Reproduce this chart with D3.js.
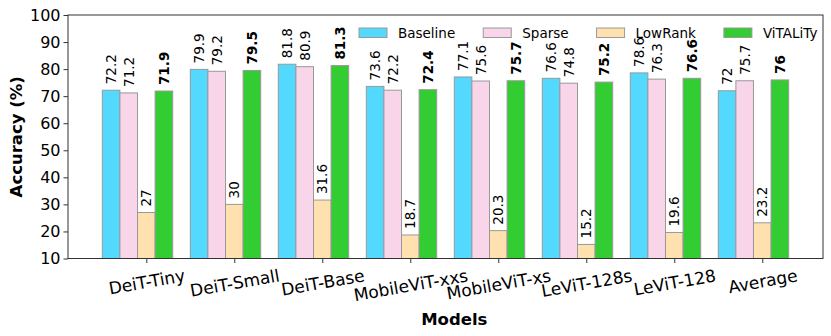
<!DOCTYPE html>
<html>
<head>
<meta charset="utf-8">
<script src="https://cdn.jsdelivr.net/npm/d3@7"></script>
<style>
  body { margin: 0; background: #fff; }
  text { font-family: "DejaVu Sans", sans-serif; fill: #000; }
</style>
</head>
<body>
<div id="chart"></div>
<script>
const models = ["DeiT-Tiny", "DeiT-Small", "DeiT-Base", "MobileViT-xxs", "MobileViT-xs", "LeViT-128s", "LeViT-128", "Average"];
const seriesNames = ["Baseline", "Sparse", "LowRank", "ViTALiTy"];
const baseline = [72.2, 79.9, 81.8, 73.6, 77.1, 76.6, 78.6, 72];
const sparse = [71.2, 79.2, 80.9, 72.2, 75.6, 74.8, 76.3, 75.7];
const lowRank = [27, 30, 31.6, 18.7, 20.3, 15.2, 19.6, 23.2];
const vitality = [71.9, 79.5, 81.3, 72.4, 75.7, 75.2, 76.6, 76];
const yTicks = [10, 20, 30, 40, 50, 60, 70, 80, 90, 100];

const colors = ["#52d9fd", "#f8d5e8", "#ffe1b0", "#33cc33"];
const series = [baseline, sparse, lowRank, vitality];
const barW = 0.2;
// left edge of each series relative to the tick (tick sits on the LowRank bar)
const offsets = [-0.5, -0.3, -0.1, 0.1];

const W = 831, H = 336;
const margin = { t: 15, r: 8, b: 77.5, l: 68 };

const svg = d3.select("#chart").append("svg")
  .attr("width", W)
  .attr("height", H);

var scale = {
  x: d3.scaleLinear().domain([-0.89, 7.69]).range([margin.l, W - margin.r]),
  y: d3.scaleLinear().domain([10, 100]).range([H - margin.b, margin.t]),
};

svg.append("clipPath").attr("id", "clip")
  .append("rect")
  .attr("x", margin.l).attr("y", margin.t)
  .attr("width", W - margin.r - margin.l)
  .attr("height", H - margin.b - margin.t);

// bars
const plot = svg.append("g").attr("clip-path", "url(#clip)");
series.forEach((vals, s) => {
  plot.selectAll(".bar" + s)
    .data(vals)
    .join("rect")
    .attr("class", "bar" + s)
    .attr("x", (d, i) => scale.x(i + offsets[s]))
    .attr("width", scale.x(barW) - scale.x(0))
    .attr("y", d => scale.y(d))
    .attr("height", d => scale.y(10) - scale.y(d) + 2)
    .attr("fill", colors[s])
    .attr("stroke", "#999")
    .attr("stroke-width", 1);
});

// value labels, vertical, ViTALiTy in bold
series.forEach((vals, s) => {
  svg.selectAll(".lab" + s)
    .data(vals)
    .join("text")
    .attr("class", "lab" + s)
    .attr("transform", (d, i) =>
      "translate(" + scale.x(i + offsets[s] + barW / 2) + "," + (scale.y(d) - 6) + ") rotate(-90)")
    .attr("dy", "0.36em")
    .style("font-size", "13.5px")
    .style("font-weight", s === 3 ? "bold" : "normal")
    .text(d => String(d));
});

// axes
const yAxis = d3.axisLeft(scale.y).tickValues(yTicks).tickSize(4.5).tickPadding(3);
const gy = svg.append("g")
  .attr("transform", "translate(" + margin.l + ",0)")
  .call(yAxis);
gy.selectAll("text").style("font-size", "16px");

const xAxis = d3.axisBottom(scale.x).tickValues(d3.range(models.length))
  .tickFormat((d, i) => models[i]).tickSize(4.5).tickPadding(3);
const gx = svg.append("g")
  .attr("transform", "translate(0," + (H - margin.b) + ")")
  .call(xAxis);
const fs = 17, ang = 10 * Math.PI / 180;
gx.selectAll("text")
  .style("font-size", fs + "px")
  .attr("y", 0).attr("dy", 0)
  .attr("text-anchor", "middle")
  .attr("dominant-baseline", "central")
  .attr("transform", function () {
    // rotated label hangs with its bounding box top just under the tick
    const L = this.getComputedTextLength();
    const cy = 7.5 + (L * Math.sin(ang) + fs * 1.1 * Math.cos(ang)) / 2;
    return "translate(0," + cy + ") rotate(-10)";
  });

svg.selectAll(".domain").remove();
svg.selectAll(".tick line").attr("stroke", "#333");

// frame
svg.append("rect")
  .attr("x", margin.l).attr("y", margin.t)
  .attr("width", W - margin.r - margin.l)
  .attr("height", H - margin.b - margin.t)
  .attr("fill", "none")
  .attr("stroke", "#333")
  .attr("stroke-width", 1);

// axis titles
svg.append("text")
  .attr("transform", "translate(22," + (margin.t + (H - margin.b - margin.t) / 2) + ") rotate(-90)")
  .attr("text-anchor", "middle")
  .style("font-size", "16.5px")
  .style("font-weight", "bold")
  .text("Accuracy (%)");

svg.append("text")
  .attr("x", scale.x(3.5))
  .attr("y", 325)
  .attr("text-anchor", "middle")
  .style("font-size", "16.5px")
  .style("font-weight", "bold")
  .text("Models");

// legend
const legend = svg.append("g").attr("transform", "translate(359,28)");
let lx = 0;
seriesNames.forEach((name, s) => {
  const g = legend.append("g").attr("transform", "translate(" + lx + ",0)");
  g.append("rect")
    .attr("width", 28).attr("height", 9.5)
    .attr("fill", colors[s])
    .attr("stroke", "#999");
  const t = g.append("text")
    .attr("x", 39).attr("y", 4.75)
    .attr("dy", "0.36em")
    .style("font-size", "13.5px")
    .text(name);
  lx += 39 + t.node().getComputedTextLength() + 28;
});
</script>
</body>
</html>
